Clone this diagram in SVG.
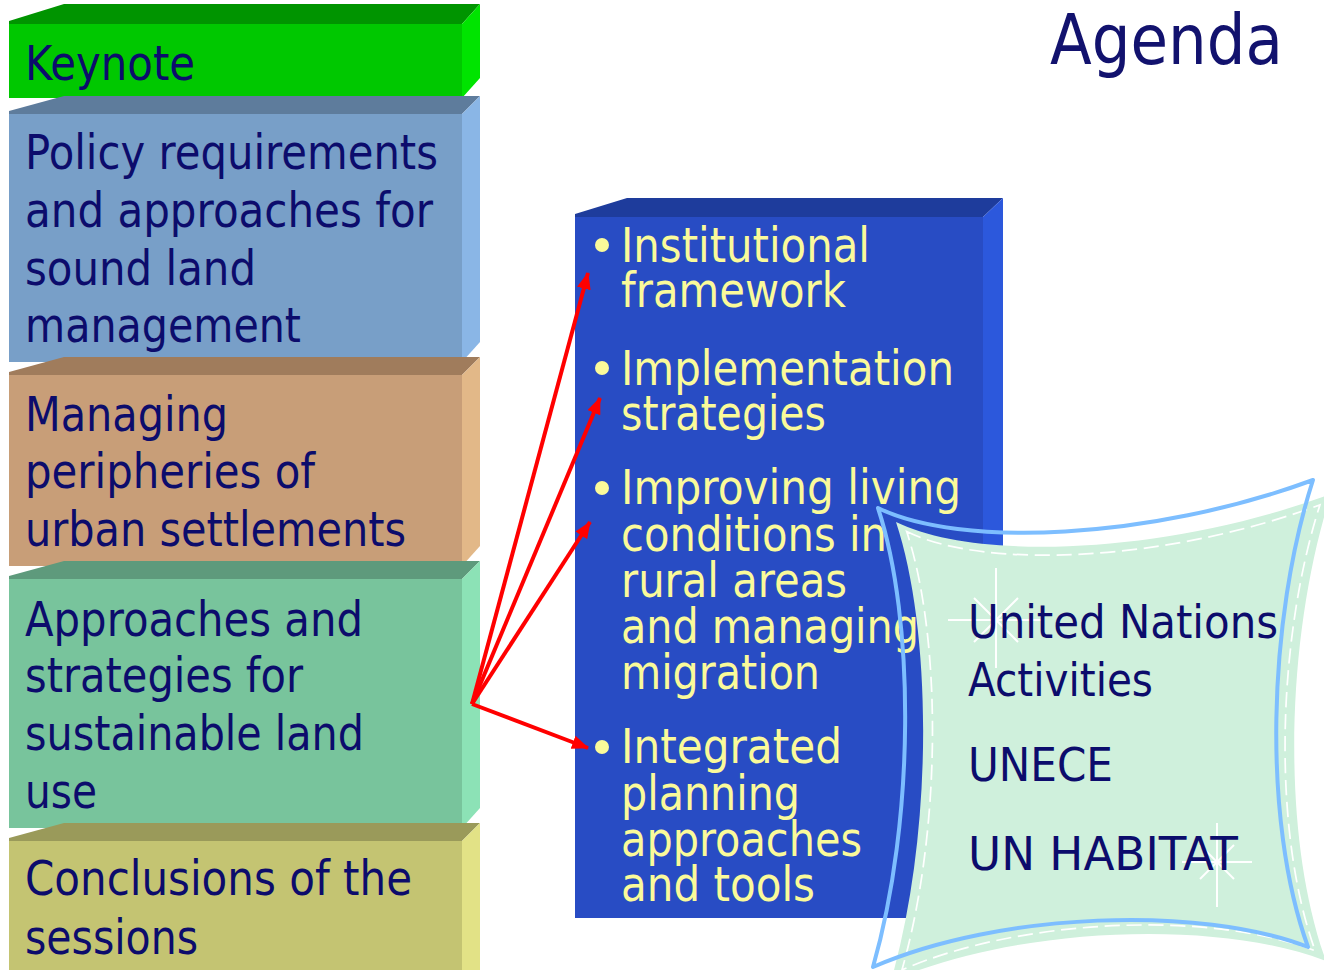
<svg xmlns="http://www.w3.org/2000/svg" width="1324" height="970" viewBox="0 0 1324 970">
<defs>
<style>
.t{font-family:"DejaVu Sans","Liberation Sans",sans-serif;font-size:48px;fill:#0C0C6C}
.y{font-family:"DejaVu Sans","Liberation Sans",sans-serif;font-size:48px;fill:#FAFA9A}
.r{font-family:"DejaVu Sans","Liberation Sans",sans-serif;font-size:47px;fill:#0C0C6C}
.conn{stroke:#FF0000;stroke-width:4;fill:none;marker-end:url(#ah)}
.spark{stroke:#FFFFFF;stroke-width:2}
</style>
<marker id="ah" markerUnits="userSpaceOnUse" markerWidth="18" markerHeight="14" refX="16" refY="7" orient="auto">
<path d="M0,0 L17,7 L0,14 Z" fill="#FF0000"/>
</marker>
<path id="scroll" d="M878,508 C960,548 1150,540 1313,480 C1268,620 1262,820 1308,947 C1200,905 1000,912 873,967 C915,820 915,620 878,508 Z"/>
</defs>
<rect width="1324" height="970" fill="#FFFFFF"/>

<g id="node-keynote">
<polygon points="9,24 9,21 64,4 480,4 462,24" fill="#009400"/>
<rect x="9" y="24" width="453" height="74" fill="#00C800"/>
<polygon points="462,24 480,4 480,78 462,98" fill="#00E400"/>
<text class="t" x="25" y="80" textLength="170" lengthAdjust="spacingAndGlyphs">Keynote</text>
</g>

<g id="node-policy">
<polygon points="9,114 9,111 64,96 480,96 462,114" fill="#5E7C9C"/>
<rect x="9" y="114" width="453" height="248" fill="#789FC8"/>
<polygon points="462,114 480,96 480,342 462,362" fill="#8AB6E6"/>
<text class="t" x="25" y="169" textLength="413" lengthAdjust="spacingAndGlyphs">Policy requirements</text>
<text class="t" x="25" y="227" textLength="408" lengthAdjust="spacingAndGlyphs">and approaches for</text>
<text class="t" x="25" y="285" textLength="231" lengthAdjust="spacingAndGlyphs">sound land</text>
<text class="t" x="25" y="342" textLength="276" lengthAdjust="spacingAndGlyphs">management</text>
</g>

<g id="node-managing">
<polygon points="9,375 9,372 64,357 480,357 462,375" fill="#A07C5C"/>
<rect x="9" y="375" width="453" height="191" fill="#C89E78"/>
<polygon points="462,375 480,357 480,546 462,566" fill="#E2B888"/>
<text class="t" x="25" y="431" textLength="203" lengthAdjust="spacingAndGlyphs">Managing</text>
<text class="t" x="25" y="488" textLength="290" lengthAdjust="spacingAndGlyphs">peripheries of</text>
<text class="t" x="25" y="546" textLength="381" lengthAdjust="spacingAndGlyphs">urban settlements</text>
</g>

<g id="node-approaches">
<polygon points="9,579 9,576 64,561 480,561 462,579" fill="#5E9A7C"/>
<rect x="9" y="579" width="453" height="249" fill="#78C49C"/>
<polygon points="462,579 480,561 480,808 462,828" fill="#8CE2B6"/>
<text class="t" x="25" y="636" textLength="338" lengthAdjust="spacingAndGlyphs">Approaches and</text>
<text class="t" x="25" y="692" textLength="278" lengthAdjust="spacingAndGlyphs">strategies for</text>
<text class="t" x="25" y="750" textLength="339" lengthAdjust="spacingAndGlyphs">sustainable land</text>
<text class="t" x="25" y="808" textLength="72" lengthAdjust="spacingAndGlyphs">use</text>
</g>

<g id="node-conclusions">
<polygon points="9,841 9,838 64,823 480,823 462,841" fill="#9A9A5A"/>
<rect x="9" y="841" width="453" height="140" fill="#C4C472"/>
<polygon points="462,841 480,823 480,990 462,990" fill="#E2E286"/>
<text class="t" x="25" y="895" textLength="387" lengthAdjust="spacingAndGlyphs">Conclusions of the</text>
<text class="t" x="25" y="954" textLength="173" lengthAdjust="spacingAndGlyphs">sessions</text>
</g>

<g id="node-topics">
<polygon points="575,217 575,214 627,198 1003,198 983,217" fill="#1E3C9C"/>
<rect x="575" y="217" width="408" height="701" fill="#284CC4"/>
<polygon points="983,217 1003,198 1003,898 983,918" fill="#2C58DC"/>
<g fill="#FAFA9A">
<circle cx="602" cy="245" r="7"/>
<circle cx="602" cy="368" r="7"/>
<circle cx="602" cy="488" r="7"/>
<circle cx="602" cy="747" r="7"/>
</g>
<text class="y" x="621" y="262" textLength="249" lengthAdjust="spacingAndGlyphs">Institutional</text>
<text class="y" x="621" y="307" textLength="225" lengthAdjust="spacingAndGlyphs">framework</text>
<text class="y" x="621" y="385" textLength="333" lengthAdjust="spacingAndGlyphs">Implementation</text>
<text class="y" x="621" y="430" textLength="205" lengthAdjust="spacingAndGlyphs">strategies</text>
<text class="y" x="621" y="504" textLength="340" lengthAdjust="spacingAndGlyphs">Improving living</text>
<text class="y" x="621" y="551" textLength="266" lengthAdjust="spacingAndGlyphs">conditions in</text>
<text class="y" x="621" y="597" textLength="226" lengthAdjust="spacingAndGlyphs">rural areas</text>
<text class="y" x="621" y="643" textLength="298" lengthAdjust="spacingAndGlyphs">and managing</text>
<text class="y" x="621" y="689" textLength="199" lengthAdjust="spacingAndGlyphs">migration</text>
<text class="y" x="621" y="763" textLength="221" lengthAdjust="spacingAndGlyphs">Integrated</text>
<text class="y" x="621" y="810" textLength="179" lengthAdjust="spacingAndGlyphs">planning</text>
<text class="y" x="621" y="856" textLength="241" lengthAdjust="spacingAndGlyphs">approaches</text>
<text class="y" x="621" y="901" textLength="194" lengthAdjust="spacingAndGlyphs">and tools</text>
</g>

<g id="connectors">
<line class="conn" x1="472" y1="704" x2="588" y2="273"/>
<line class="conn" x1="472" y1="704" x2="600" y2="398"/>
<line class="conn" x1="472" y1="704" x2="590" y2="522"/>
<line class="conn" x1="472" y1="704" x2="588" y2="748"/>
</g>

<g id="node-un">
<use href="#scroll" transform="translate(18,14)" fill="#CFF0DC"/>
<use href="#scroll" transform="translate(1110,735) scale(0.95,0.955) translate(-1092,-721)" fill="none" stroke="#FFFFFF" stroke-width="1.8" stroke-dasharray="16 7"/>
<g class="spark">
<line x1="996" y1="568" x2="996" y2="668"/>
<line x1="948" y1="620" x2="1044" y2="620"/>
<line x1="974" y1="598" x2="1018" y2="642"/>
<line x1="1018" y1="598" x2="974" y2="642"/>
<line x1="1217" y1="823" x2="1217" y2="907"/>
<line x1="1182" y1="862" x2="1252" y2="862"/>
<line x1="1200" y1="845" x2="1234" y2="879"/>
<line x1="1234" y1="845" x2="1200" y2="879"/>
</g>
<use href="#scroll" fill="none" stroke="#7DBEFF" stroke-width="4" stroke-linejoin="round"/>
<text class="r" x="968" y="638" textLength="310" lengthAdjust="spacingAndGlyphs">United Nations</text>
<text class="r" x="968" y="696" textLength="185" lengthAdjust="spacingAndGlyphs">Activities</text>
<text class="r" x="968" y="781" textLength="145" lengthAdjust="spacingAndGlyphs">UNECE</text>
<text class="r" x="968" y="870" textLength="270" lengthAdjust="spacingAndGlyphs">UN HABITAT</text>
</g>

<g id="title">
<text x="1050" y="64" font-family="DejaVu Sans, Liberation Sans, sans-serif" font-size="70" fill="#12126E" textLength="233" lengthAdjust="spacingAndGlyphs">Agenda</text>
</g>
</svg>
